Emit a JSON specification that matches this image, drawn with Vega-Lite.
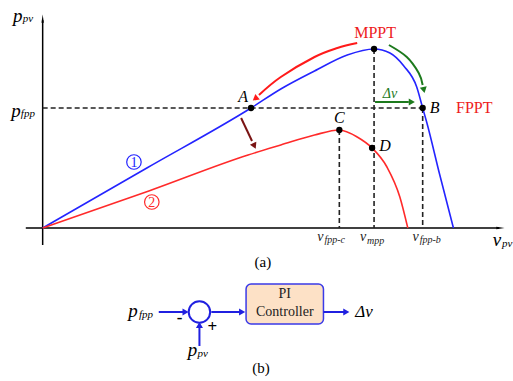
{
  "$schema": "https://vega.github.io/schema/vega-lite/v6.json",
  "width": 513,
  "height": 381,
  "padding": 0,
  "autosize": {"type": "fit", "contains": "padding"},
  "background": "white",
  "config": {"view": {"stroke": null}, "font": "Times New Roman, Liberation Serif, DejaVu Serif, serif", "text": {"font": "Times New Roman, Liberation Serif, DejaVu Serif, serif"}},
  "datasets": {
    "axes": [
      {"seg": "y", "x": 43, "y": 245}, {"seg": "y", "x": 43, "y": 20},
      {"seg": "x", "x": 26, "y": 228}, {"seg": "x", "x": 503, "y": 228}
    ],
    "dashed": [
      {"seg": "h", "x": 43, "y": 108}, {"seg": "h", "x": 426, "y": 108},
      {"seg": "mpp", "x": 377, "y": 49}, {"seg": "mpp", "x": 377, "y": 228},
      {"seg": "b", "x": 426, "y": 108}, {"seg": "b", "x": 426, "y": 228},
      {"seg": "c", "x": 342, "y": 130}, {"seg": "c", "x": 342, "y": 228}
    ],
    "curves": [
      {"curve": "1", "x": 43, "y": 228}, {"curve": "1", "x": 148, "y": 168}, {"curve": "1", "x": 253, "y": 108},
      {"curve": "1", "x": 283, "y": 89}, {"curve": "1", "x": 317, "y": 71}, {"curve": "1", "x": 350, "y": 55},
      {"curve": "1", "x": 377, "y": 49}, {"curve": "1", "x": 393, "y": 53}, {"curve": "1", "x": 407, "y": 66},
      {"curve": "1", "x": 420, "y": 87}, {"curve": "1", "x": 426, "y": 108}, {"curve": "1", "x": 430, "y": 122},
      {"curve": "1", "x": 443, "y": 174}, {"curve": "1", "x": 457, "y": 228},
      {"curve": "2", "x": 43, "y": 228}, {"curve": "2", "x": 150, "y": 191}, {"curve": "2", "x": 250, "y": 155},
      {"curve": "2", "x": 283, "y": 145}, {"curve": "2", "x": 317, "y": 135}, {"curve": "2", "x": 342, "y": 130},
      {"curve": "2", "x": 360, "y": 137}, {"curve": "2", "x": 375, "y": 148}, {"curve": "2", "x": 390, "y": 167},
      {"curve": "2", "x": 403, "y": 197}, {"curve": "2", "x": 411, "y": 228}
    ],
    "arrows": [
      {"a": "m", "role": "mppt", "i": 1, "x": 360, "y": 43}, {"a": "m", "role": "mppt", "i": 2, "x": 340, "y": 48},
      {"a": "m", "role": "mppt", "i": 3, "x": 317, "y": 57}, {"a": "m", "role": "mppt", "i": 4, "x": 283, "y": 77},
      {"a": "m", "role": "mppt", "i": 5, "x": 261, "y": 95},
      {"a": "f", "role": "fppt", "i": 1, "x": 392, "y": 45}, {"a": "f", "role": "fppt", "i": 2, "x": 410, "y": 57},
      {"a": "f", "role": "fppt", "i": 3, "x": 422, "y": 73}, {"a": "f", "role": "fppt", "i": 4, "x": 426, "y": 85},
      {"a": "s", "role": "shift", "i": 1, "x": 243, "y": 118}, {"a": "s", "role": "shift", "i": 2, "x": 254, "y": 141},
      {"a": "d", "role": "delta", "i": 1, "x": 378, "y": 102}, {"a": "d", "role": "delta", "i": 2, "x": 412, "y": 102},
      {"a": "b1", "role": "signal", "i": 1, "x": 160, "y": 312}, {"a": "b1", "role": "signal", "i": 2, "x": 185, "y": 312},
      {"a": "b2", "role": "signal", "i": 1, "x": 213, "y": 312}, {"a": "b2", "role": "signal", "i": 2, "x": 242, "y": 312},
      {"a": "b3", "role": "signal", "i": 1, "x": 326, "y": 312}, {"a": "b3", "role": "signal", "i": 2, "x": 347, "y": 312},
      {"a": "b4", "role": "signal", "i": 1, "x": 201, "y": 346}, {"a": "b4", "role": "signal", "i": 2, "x": 201, "y": 328}
    ],
    "heads": [
      {"role": "mppt", "x": 258, "y": 98, "angle": 231},
      {"role": "fppt", "x": 427, "y": 89, "angle": 168},
      {"role": "shift", "x": 256, "y": 145, "angle": 155},
      {"role": "delta", "x": 414, "y": 102, "angle": 90},
      {"role": "signal", "x": 186, "y": 312, "angle": 90},
      {"role": "signal", "x": 243, "y": 312, "angle": 90},
      {"role": "signal", "x": 348, "y": 312, "angle": 90},
      {"role": "signal", "x": 201, "y": 326, "angle": 0}
    ],
    "axisHeads": [
      {"x": 43, "y": 20, "angle": 0},
      {"x": 503, "y": 228, "angle": 90}
    ],
    "dots": [
      {"name": "A", "x": 253, "y": 108}, {"name": "MPP", "x": 377, "y": 49},
      {"name": "B", "x": 426, "y": 108}, {"name": "C", "x": 342, "y": 130},
      {"name": "D", "x": 375, "y": 148}
    ],
    "circ": [
      {"curve": "1", "n": "1", "x": 135, "y": 162},
      {"curve": "2", "n": "2", "x": 153, "y": 202}
    ],
    "box": [{"x": 248, "x2": 326, "y": 284, "y2": 324}],
    "sum": [{"x": 201, "y": 312}],
    "texts": [
      {"style": "math", "text": "p", "x": 18, "y": 16},
      {"style": "sub", "text": "pv", "x": 23, "y": 19},
      {"style": "math", "text": "p", "x": 16, "y": 111},
      {"style": "sub", "text": "fpp", "x": 21, "y": 114},
      {"style": "pt", "text": "A", "x": 245, "y": 97},
      {"style": "pt", "text": "B", "x": 438, "y": 108},
      {"style": "pt", "text": "C", "x": 342, "y": 118},
      {"style": "pt", "text": "D", "x": 388, "y": 146},
      {"style": "red", "text": "MPPT", "x": 378, "y": 33},
      {"style": "red", "text": "FPPT", "x": 478, "y": 108},
      {"style": "dv", "text": "Δv", "x": 393, "y": 94},
      {"style": "tick", "text": "v", "x": 323, "y": 237},
      {"style": "tsub", "text": "fpp-c", "x": 327, "y": 240},
      {"style": "tick", "text": "v", "x": 366, "y": 237},
      {"style": "tsub", "text": "mpp", "x": 370, "y": 241},
      {"style": "tick", "text": "v", "x": 419, "y": 237},
      {"style": "tsub", "text": "fpp-b", "x": 423, "y": 240},
      {"style": "math", "text": "v", "x": 501, "y": 240},
      {"style": "sub", "text": "pv", "x": 506, "y": 244},
      {"style": "plain", "text": "(a)", "x": 265, "y": 262},
      {"style": "plain", "text": "(b)", "x": 263, "y": 368},
      {"style": "box", "text": "PI", "x": 287, "y": 294},
      {"style": "box", "text": "Controller", "x": 287, "y": 312},
      {"style": "math", "text": "p", "x": 134, "y": 311},
      {"style": "sub", "text": "fpp", "x": 140, "y": 315},
      {"style": "math", "text": "p", "x": 194, "y": 350},
      {"style": "sub", "text": "pv", "x": 199, "y": 354},
      {"style": "sign", "text": "-", "x": 181, "y": 318},
      {"style": "sign", "text": "+", "x": 214, "y": 327},
      {"style": "dvb", "text": "Δv", "x": 367, "y": 312}
    ]
  },
  "encoding": {
    "x": {"field": "x", "type": "quantitative", "scale": {"domain": [0, 513]}, "axis": null},
    "y": {"field": "y", "type": "quantitative", "scale": {"domain": [0, 381], "reverse": true}, "axis": null}
  },
  "resolve": {"scale": {"color": "shared"}},
  "layer": [
    {
      "data": {"name": "box"},
      "mark": {"type": "rect", "fill": "#fde1c6", "stroke": "#3a3ae8", "strokeWidth": 1.5, "cornerRadius": 5},
      "encoding": {"x2": {"field": "x2"}, "y2": {"field": "y2"}}
    },
    {
      "data": {"name": "axes"},
      "mark": {"type": "line", "color": "black", "strokeWidth": 1.5},
      "encoding": {"detail": {"field": "seg"}}
    },
    {
      "data": {"name": "axisHeads"},
      "mark": {"type": "point", "shape": "wedge", "filled": true, "color": "black", "size": 90, "opacity": 1},
      "encoding": {"angle": {"field": "angle", "type": "quantitative", "scale": null}}
    },
    {
      "data": {"name": "dashed"},
      "mark": {"type": "line", "color": "#222222", "strokeWidth": 1.6, "strokeDash": [5, 3]},
      "encoding": {"detail": {"field": "seg"}}
    },
    {
      "data": {"name": "curves"},
      "mark": {"type": "line", "strokeWidth": 1.6, "interpolate": "monotone"},
      "encoding": {
        "color": {"field": "curve", "type": "nominal", "legend": null,
          "scale": {"domain": ["1", "2", "mppt", "fppt", "shift", "delta", "signal"],
                    "range": ["#2424ff", "#ff2a2a", "#ff1a1a", "#1d7a1d", "#7a1414", "#1d7a1d", "#2020e0"]}}
      }
    },
    {
      "data": {"name": "arrows"},
      "mark": {"type": "line", "strokeWidth": 2, "interpolate": "cardinal"},
      "encoding": {
        "detail": {"field": "a"},
        "order": {"field": "i", "type": "quantitative"},
        "color": {"field": "role", "type": "nominal", "legend": null}
      }
    },
    {
      "data": {"name": "heads"},
      "mark": {"type": "point", "shape": "triangle", "filled": true, "size": 50, "opacity": 1},
      "encoding": {
        "angle": {"field": "angle", "type": "quantitative", "scale": null},
        "color": {"field": "role", "type": "nominal", "legend": null}
      }
    },
    {
      "data": {"name": "sum"},
      "mark": {"type": "point", "shape": "circle", "filled": false, "stroke": "#2020e0", "strokeWidth": 2, "size": 460, "opacity": 1}
    },
    {
      "data": {"name": "dots"},
      "mark": {"type": "point", "shape": "circle", "filled": true, "color": "black", "size": 40, "opacity": 1}
    },
    {
      "data": {"name": "circ"},
      "mark": {"type": "point", "shape": "circle", "filled": false, "strokeWidth": 1.2, "size": 210, "opacity": 1},
      "encoding": {"color": {"field": "curve", "type": "nominal", "legend": null}}
    },
    {
      "data": {"name": "circ"},
      "mark": {"type": "text", "fontSize": 14, "baseline": "middle", "align": "center", "dy": 1},
      "encoding": {"text": {"field": "n"}, "color": {"field": "curve", "type": "nominal", "legend": null}}
    },
    {
      "data": {"name": "texts"},
      "transform": [{"filter": "datum.style == 'math'"}],
      "mark": {"type": "text", "fontSize": 19, "fontStyle": "italic", "align": "center", "baseline": "middle", "color": "black"},
      "encoding": {"text": {"field": "text"}}
    },
    {
      "data": {"name": "texts"},
      "transform": [{"filter": "datum.style == 'sub'"}],
      "mark": {"type": "text", "fontSize": 11, "fontStyle": "italic", "align": "left", "baseline": "middle", "color": "black"},
      "encoding": {"text": {"field": "text"}}
    },
    {
      "data": {"name": "texts"},
      "transform": [{"filter": "datum.style == 'pt'"}],
      "mark": {"type": "text", "fontSize": 16, "fontStyle": "italic", "align": "center", "baseline": "middle", "color": "black"},
      "encoding": {"text": {"field": "text"}}
    },
    {
      "data": {"name": "texts"},
      "transform": [{"filter": "datum.style == 'red'"}],
      "mark": {"type": "text", "fontSize": 16, "align": "center", "baseline": "middle", "color": "#ee1c1c"},
      "encoding": {"text": {"field": "text"}}
    },
    {
      "data": {"name": "texts"},
      "transform": [{"filter": "datum.style == 'dv'"}],
      "mark": {"type": "text", "fontSize": 14, "fontStyle": "italic", "align": "center", "baseline": "middle", "color": "#1d7a1d"},
      "encoding": {"text": {"field": "text"}}
    },
    {
      "data": {"name": "texts"},
      "transform": [{"filter": "datum.style == 'tick'"}],
      "mark": {"type": "text", "fontSize": 14, "fontStyle": "italic", "align": "center", "baseline": "middle", "color": "#222222"},
      "encoding": {"text": {"field": "text"}}
    },
    {
      "data": {"name": "texts"},
      "transform": [{"filter": "datum.style == 'tsub'"}],
      "mark": {"type": "text", "fontSize": 10, "fontStyle": "italic", "align": "left", "baseline": "middle", "color": "#222222"},
      "encoding": {"text": {"field": "text"}}
    },
    {
      "data": {"name": "texts"},
      "transform": [{"filter": "datum.style == 'plain'"}],
      "mark": {"type": "text", "fontSize": 15, "align": "center", "baseline": "middle", "color": "black"},
      "encoding": {"text": {"field": "text"}}
    },
    {
      "data": {"name": "texts"},
      "transform": [{"filter": "datum.style == 'box'"}],
      "mark": {"type": "text", "fontSize": 14, "align": "center", "baseline": "middle", "color": "#222222"},
      "encoding": {"text": {"field": "text"}}
    },
    {
      "data": {"name": "texts"},
      "transform": [{"filter": "datum.style == 'sign'"}],
      "mark": {"type": "text", "fontSize": 17, "fontWeight": "bold", "align": "center", "baseline": "middle", "color": "black"},
      "encoding": {"text": {"field": "text"}}
    },
    {
      "data": {"name": "texts"},
      "transform": [{"filter": "datum.style == 'dvb'"}],
      "mark": {"type": "text", "fontSize": 17, "fontStyle": "italic", "align": "center", "baseline": "middle", "color": "black"},
      "encoding": {"text": {"field": "text"}}
    }
  ]
}
